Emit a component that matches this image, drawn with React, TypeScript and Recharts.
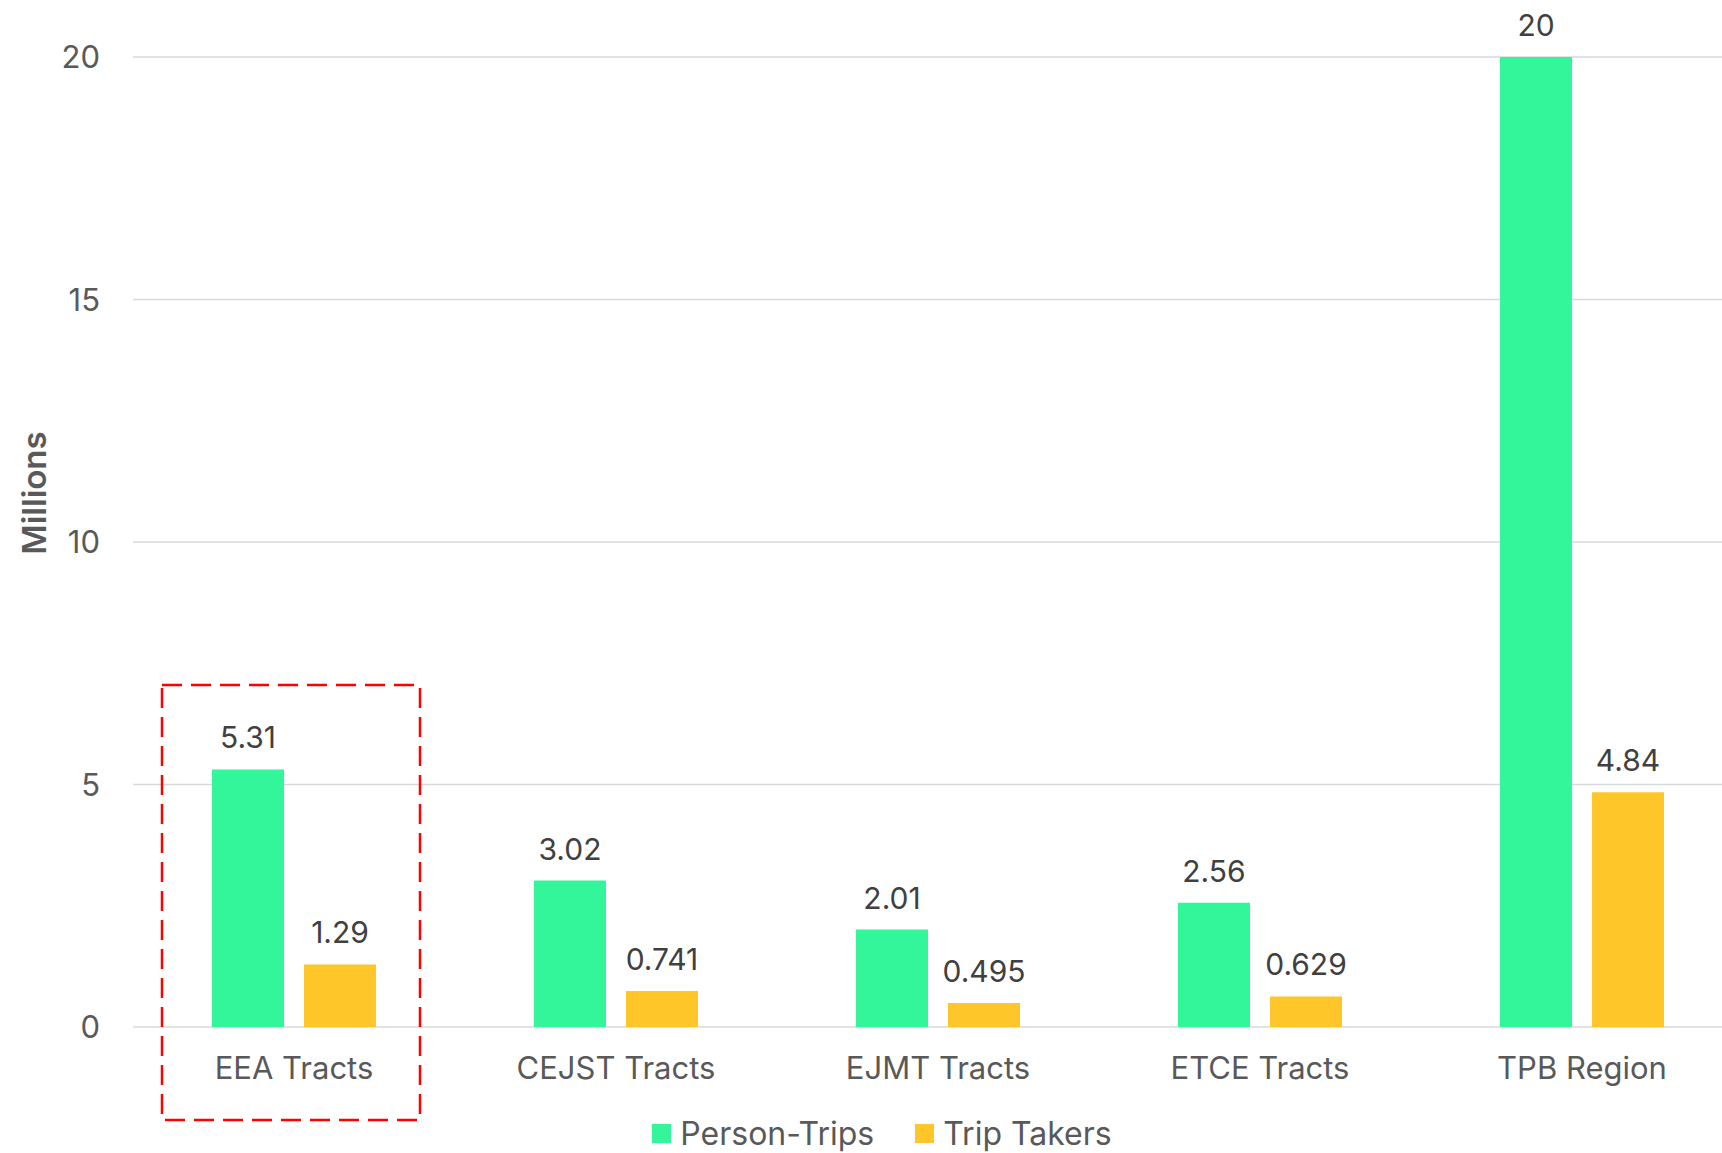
import React from 'react';
import { BarChart, Bar, XAxis, YAxis, CartesianGrid, LabelList, Legend, Customized } from 'recharts';

const categories = ['EEA Tracts', 'CEJST Tracts', 'EJMT Tracts', 'ETCE Tracts', 'TPB Region'];
const personTrips = [5.31, 3.02, 2.01, 2.56, 20];
const tripTakers = [1.29, 0.741, 0.495, 0.629, 4.84];
const yTicks = [0, 5, 10, 15, 20];

const GREEN = '#33F59A';
const YELLOW = '#FFC629';
const FONT = 'Inter, "Noto Sans", sans-serif';

const data = categories.map((c, i) => ({ name: c, personTrips: personTrips[i], tripTakers: tripTakers[i] }));

const LegendContent = () => (
  <div
    style={{
      width: 1722,
      height: 60,
      display: 'flex',
      justifyContent: 'center',
      alignItems: 'center',
      paddingTop: 20,
      paddingLeft: 42,
      boxSizing: 'border-box',
      fontFamily: FONT,
      fontSize: 32,
      color: '#595959',
    }}
  >
    <div style={{ display: 'flex', alignItems: 'center', marginRight: 41 }}>
      <div style={{ width: 19, height: 19, background: GREEN, marginRight: 9 }} />
      <span>Person-Trips</span>
    </div>
    <div style={{ display: 'flex', alignItems: 'center' }}>
      <div style={{ width: 19, height: 19, background: YELLOW, marginRight: 9 }} />
      <span>Trip Takers</span>
    </div>
  </div>
);

const Highlight = () => (
  <rect x={162} y={685} width={258} height={435} fill="none" stroke="#FF0000" strokeWidth={2.5} strokeDasharray="20 9" />
);

export default function App() {
  return (
    <div style={{ position: 'absolute', left: 0, top: 0, width: 1722, height: 1153, overflow: 'hidden', background: '#fff' }}>
      <BarChart
        width={1743}
        height={1153}
        data={data}
        margin={{ top: 57, right: 0, bottom: 0, left: 0 }}
        barSize={72}
        barGap={20}
      >
        <CartesianGrid vertical={false} stroke="#D9D9D9" strokeWidth={1.5} />
        <XAxis
          dataKey="name"
          axisLine={false}
          tickLine={false}
          tickSize={0}
          tickMargin={30}
          height={66}
          interval={0}
          tick={{ fill: '#595959', fontSize: 31, fontFamily: FONT }}
        />
        <YAxis
          width={133}
          domain={[0, 20]}
          ticks={yTicks}
          axisLine={false}
          tickLine={false}
          tickSize={0}
          tickMargin={33}
          tick={{ fill: '#595959', fontSize: 31, fontFamily: FONT }}
          label={{
            content: () => (
              <text
                x={34}
                y={493}
                transform="rotate(-90 34 493)"
                textAnchor="middle"
                dominantBaseline="central"
                fill="#595959"
                fontSize={33}
                fontWeight={600}
                fontFamily={FONT}
              >
                Millions
              </text>
            ),
          }}
        />
        <Legend verticalAlign="bottom" height={60} wrapperStyle={{ left: 0, width: 1722 }} content={<LegendContent />} />
        <Bar dataKey="personTrips" name="Person-Trips" fill={GREEN} isAnimationActive={false}>
          <LabelList dataKey="personTrips" position="top" offset={21} fill="#404040" fontSize={30} fontFamily={FONT} />
        </Bar>
        <Bar dataKey="tripTakers" name="Trip Takers" fill={YELLOW} isAnimationActive={false}>
          <LabelList dataKey="tripTakers" position="top" offset={21} fill="#404040" fontSize={30} fontFamily={FONT} />
        </Bar>
        <Customized component={Highlight} />
      </BarChart>
    </div>
  );
}
